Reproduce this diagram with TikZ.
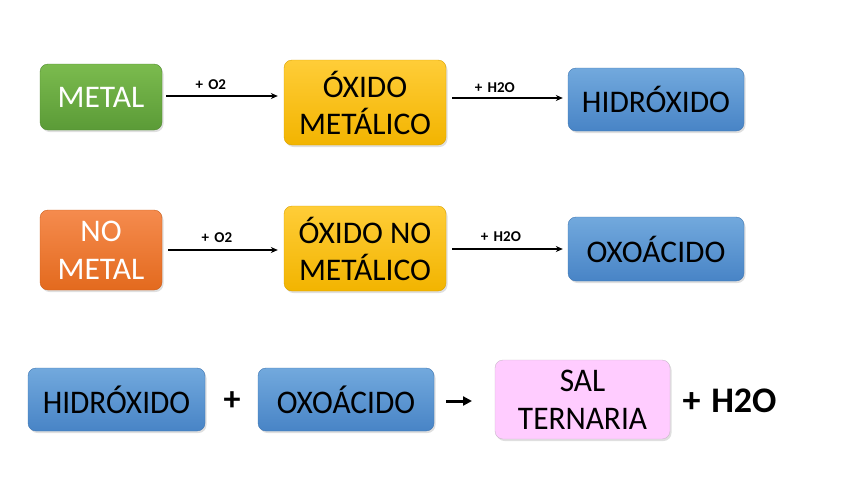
\documentclass[tikz,border=0pt]{standalone}
\usepackage{fontspec}
\setmainfont{Carlito}
\usetikzlibrary{arrows.meta,shadows,calc}
\definecolor{grtop}{HTML}{7BBB4E}
\definecolor{grbot}{HTML}{5B9B37}
\definecolor{ortop}{HTML}{F58B4E}
\definecolor{orbot}{HTML}{E36A1E}
\definecolor{yetop}{HTML}{FFCD38}
\definecolor{yebot}{HTML}{F2B400}
\definecolor{bltop}{HTML}{72A9DD}
\definecolor{blbot}{HTML}{4884C6}
\definecolor{pink}{HTML}{FFCCFF}
\definecolor{pinkline}{HTML}{C9B8C9}
\tikzset{
  box/.style={rounded corners=8pt, align=center, inner sep=0pt,
    drop shadow={shadow xshift=1.5pt,shadow yshift=-2pt,opacity=0.25},
    font=\fontsize{31.5}{38}\selectfont},
  greenbox/.style={box, top color=grtop, bottom color=grbot, draw=grbot!90!black, text=white},
  orangebox/.style={box, top color=ortop, bottom color=orbot, draw=orbot!90!black, text=white},
  yellowbox/.style={box, top color=yetop, bottom color=yebot, draw=yebot!90!black, text=black},
  bluebox/.style={box, top color=bltop, bottom color=blbot, draw=blbot!90!black, text=black},
  pinkbox/.style={box, fill=pink, draw=pinkline, text=black},
  conn/.style={-{Stealth[length=7pt,width=6pt]}, line width=1.1pt, black},
  lbl/.style={font=\fontsize{15}{17}\selectfont\bfseries, inner sep=2pt},
  bigtxt/.style={font=\fontsize{33}{38}\selectfont},
}
\newcommand{\cond}[1]{\scalebox{0.95}[1]{#1}}
\newcommand{\upby}[1]{\raisebox{2.5pt}{\begin{tabular}{@{}c@{}}#1\end{tabular}}}
\begin{document}
\begin{tikzpicture}[x=1pt,y=-1pt]
\useasboundingbox (0,0) rectangle (848,477);
% row 1
\node[greenbox, minimum width=122pt, minimum height=66pt] (metal) at (101,97) {METAL};
\node[yellowbox, minimum width=162pt, minimum height=85pt] (oxm) at (365,102.5) {ÓXIDO\\[-1pt]METÁLICO};
\node[bluebox, minimum width=176pt, minimum height=63pt] (hid1) at (656,99.5) {HIDRÓXIDO};
\draw[conn, shorten <=4pt, shorten >=6pt] ($(metal.east)+(0,-1)$) -- ($(metal.east -| oxm.west)+(0,-1)$) node[lbl, pos=0.4, above=4pt] {+\hspace{0.35em}O2};
\draw[conn, shorten <=6pt, shorten >=5pt] ($(oxm.east |- hid1.west)+(0,-1.5)$) -- ($(hid1.west)+(0,-1.5)$) node[lbl, pos=0.4, above=3pt] {+\hspace{0.35em}H2O};
% row 2
\node[orangebox, minimum width=122pt, minimum height=80pt] (nometal) at (101,250) {NO\\METAL};
\node[yellowbox, minimum width=162pt, minimum height=85pt] (oxnm) at (365,248.5) {ÓXIDO NO\\[-1pt]METÁLICO};
\node[bluebox, minimum width=176pt, minimum height=64pt] (oxo1) at (656,249) {OXOÁCIDO};
\draw[conn, shorten <=6pt, shorten >=6pt] (nometal.east) -- (nometal.east -| oxnm.west) node[lbl, pos=0.45, above=5pt] {+\hspace{0.35em}O2};
\draw[conn, shorten <=6pt, shorten >=5pt] (oxnm.east |- oxo1.west) -- (oxo1.west) node[lbl, pos=0.45, above=5pt] {+\hspace{0.35em}H2O};
% row 3
\node[bluebox, bigtxt, minimum width=177pt, minimum height=63pt] (hid2) at (116.5,399.5) {\cond{HIDRÓXIDO}};
\node[font=\fontsize{34}{38}\selectfont\bfseries] (plus) at (232,401) {+};
\node[bluebox, bigtxt, minimum width=176pt, minimum height=63pt] (oxo2) at (346,399.5) {\cond{OXOÁCIDO}};
\node[pinkbox, bigtxt, minimum width=175pt, minimum height=79pt] (sal) at (582.5,399.5) {\cond{SAL}\\\cond{TERNARIA}};
\coordinate (arrs) at (446,401);
\coordinate (arre) at (472,401);
\draw[-{Triangle[length=9pt,width=9pt]}, line width=3pt] (arrs) -- (arre);
\node[font=\fontsize{36}{40}\selectfont\bfseries, anchor=west] (h2o) at (679,401) {+\hspace{0.3em}H2O};
\end{tikzpicture}
\end{document}
